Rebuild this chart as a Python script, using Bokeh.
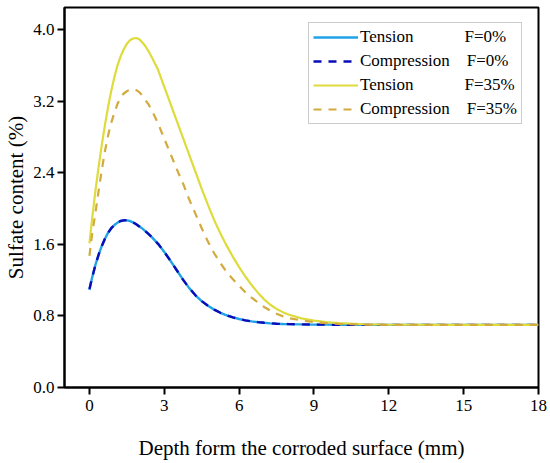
from bokeh.plotting import figure
from bokeh.models import Legend, LegendItem, FixedTicker, Range1d
from bokeh.embed import file_html
from bokeh.resources import INLINE

# Depth from the corroded surface (mm)
depth = [0, 0.1, 0.25, 0.375, 0.5, 0.625, 0.75, 0.875, 1.0, 1.125, 1.25, 1.375,
         1.5, 1.625, 1.75, 1.875, 2.0, 2.125, 2.25, 2.375, 2.5,
         2.75, 3.0, 3.25, 3.5, 3.75, 4.0, 4.25, 4.5, 4.75, 5.0, 5.25, 5.5, 5.75,
         6.0, 6.25, 6.5, 6.75, 7.0, 7.25, 7.5, 7.75, 8.0,
         8.5, 9.0, 9.5, 10, 11, 12, 14, 16, 18]

# Sulfate content (%)
tension_f0 = [1.09, 1.22,
              1.38, 1.49, 1.585, 1.665, 1.73, 1.78, 1.815, 1.842, 1.86, 1.868,
              1.867, 1.86, 1.845, 1.825, 1.80, 1.775, 1.745, 1.713, 1.68,
              1.605, 1.515, 1.415, 1.31, 1.205, 1.11, 1.03, 0.965, 0.913, 0.870,
              0.835, 0.806, 0.783, 0.765, 0.750, 0.739, 0.730, 0.723, 0.717,
              0.713, 0.710, 0.708,
              0.705, 0.703, 0.702, 0.701, 0.70, 0.70, 0.70, 0.70, 0.70]
compression_f0 = [1.10, 1.22,
                  1.38, 1.49, 1.585, 1.665, 1.73, 1.78, 1.815, 1.842, 1.86, 1.868,
                  1.867, 1.86, 1.845, 1.825, 1.80, 1.775, 1.745, 1.713, 1.68,
                  1.605, 1.515, 1.415, 1.31, 1.205, 1.11, 1.03, 0.965, 0.913, 0.870,
                  0.835, 0.806, 0.783, 0.765, 0.750, 0.739, 0.730, 0.723, 0.717,
                  0.713, 0.710, 0.708,
                  0.705, 0.703, 0.702, 0.701, 0.70, 0.70, 0.70, 0.70, 0.70]
tension_f35 = [1.61, 1.87,
               2.22, 2.48, 2.72, 2.94, 3.14, 3.315, 3.47, 3.60, 3.70, 3.78,
               3.84, 3.88, 3.90, 3.905, 3.89, 3.855, 3.81, 3.755, 3.69,
               3.55, 3.36, 3.17, 2.98, 2.79, 2.60, 2.41, 2.22, 2.04, 1.87,
               1.72, 1.585, 1.46, 1.345, 1.24, 1.145, 1.06, 0.985, 0.925,
               0.878, 0.842, 0.813,
               0.772, 0.747, 0.731, 0.72, 0.707, 0.701, 0.70, 0.70, 0.70]
compression_f35 = [1.47, 1.70,
                   1.97, 2.21, 2.44, 2.645, 2.82, 2.96, 3.07, 3.17, 3.24, 3.285,
                   3.31, 3.327, 3.33, 3.322, 3.30, 3.26, 3.21, 3.16, 3.10,
                   2.95, 2.78, 2.61, 2.44, 2.28, 2.10, 1.94, 1.78, 1.63, 1.50,
                   1.39, 1.29, 1.21, 1.135, 1.065, 1.005, 0.95, 0.90, 0.86,
                   0.825, 0.795, 0.775,
                   0.75, 0.73, 0.718, 0.71, 0.703, 0.70, 0.70, 0.70, 0.70]

x_ticks = [0, 3, 6, 9, 12, 15, 18]
y_ticks = [0.0, 0.8, 1.6, 2.4, 3.2, 4.0]
legend_names = ["Tension", "Compression", "Tension", "Compression"]
legend_fractions = ["F=0%", "F=0%", "F=35%", "F=35%"]
legend_gaps = [12, 4, 12, 4]   # non-breaking spaces that align the second column

FONT = "Liberation Serif"

p = figure(width=550, height=463, output_backend="svg", toolbar_location=None,
           x_range=Range1d(-1, 18), y_range=Range1d(0, 4.246),
           min_border_left=64, min_border_right=12, min_border_top=7,
           min_border_bottom=76)
p.xgrid.visible = False
p.ygrid.visible = False
p.outline_line_color = "black"
p.outline_line_width = 2
p.background_fill_color = "white"
p.border_fill_color = "white"

r1 = p.line(depth, tension_f0, line_color="#1fa3e6", line_width=2.4)
r2 = p.line(depth, compression_f0, line_color="#0b0bb8", line_width=2.4,
            line_dash="8 7")
r3 = p.line(depth, tension_f35, line_color="#dedb3c", line_width=2.2)
r4 = p.line(depth, compression_f35, line_color="#d3aa3e", line_width=2.2,
            line_dash="8 7")

for ax in (p.xaxis[0], p.yaxis[0]):
    ax.axis_line_width = 2
    ax.axis_line_color = "black"
    ax.major_tick_line_width = 2
    ax.major_tick_line_color = "black"
    ax.major_tick_out = 7
    ax.major_tick_in = 0
    ax.minor_tick_out = 0
    ax.minor_tick_in = 0
    ax.major_label_text_font = FONT
    ax.major_label_text_font_size = "17px"
    ax.major_label_text_color = "black"
    ax.axis_label_text_font = FONT
    ax.axis_label_text_font_size = "21px"
    ax.axis_label_text_font_style = "normal"
    ax.axis_label_text_color = "black"

p.xaxis[0].ticker = FixedTicker(ticks=x_ticks)
p.yaxis[0].ticker = FixedTicker(ticks=y_ticks)
p.xaxis[0].major_label_overrides = {t: str(t) for t in x_ticks}
p.yaxis[0].major_label_overrides = {t: f"{t:.1f}" for t in y_ticks}
p.xaxis[0].axis_label = "Depth form the corroded surface (mm)"
p.yaxis[0].axis_label = "Sulfate content (%)"
p.xaxis[0].major_label_standoff = 5
p.xaxis[0].axis_label_standoff = 22
p.yaxis[0].major_label_standoff = 3
p.yaxis[0].axis_label_standoff = 2

labels = [n + "\u00a0" * g + f for n, g, f in
          zip(legend_names, legend_gaps, legend_fractions)]
items = [LegendItem(label=lab, renderers=[r]) for lab, r in
         zip(labels, [r1, r2, r3, r4])]
legend = Legend(items=items, location=(244, 263), orientation="vertical",
                glyph_width=45, glyph_height=20, spacing=4, padding=4,
                label_standoff=2, label_height=20,
                label_text_font=FONT, label_text_font_size="17px",
                label_text_color="black",
                border_line_color="#9a9a9a", border_line_width=1,
                background_fill_color="white", background_fill_alpha=1.0)
p.add_layout(legend)

open("out.html", "w").write(file_html(p, INLINE))
